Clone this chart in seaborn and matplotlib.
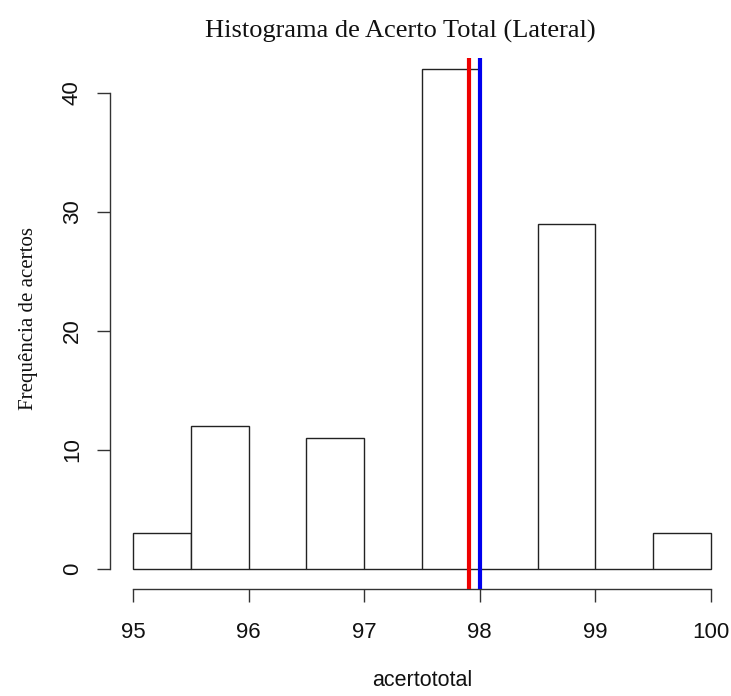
import numpy as np
import pandas as pd
import seaborn as sns
import matplotlib as mpl
mpl.use('Agg')
import matplotlib.pyplot as plt

# bin edges and counts
bin_edges = [95.0, 95.5, 96.0, 96.5, 97.0, 97.5, 98.0, 98.5, 99.0, 99.5, 100.0]
bin_counts = [3, 12, 0, 11, 0, 42, 0, 29, 0, 3]
mean_value = 97.905   # red line
median_value = 98.0   # blue line
x_ticks = [95, 96, 97, 98, 99, 100]
y_ticks = [0, 10, 20, 30, 40]

mids = [(a + b) / 2 for a, b in zip(bin_edges[:-1], bin_edges[1:])]
df = pd.DataFrame({'acertototal': mids, 'n': bin_counts})

sns.set_style('white')
plt.rcParams['font.family'] = ['Liberation Sans', 'DejaVu Sans']
serif = ['Liberation Serif', 'DejaVu Serif']

fig = plt.figure(figsize=(7.31, 6.96), dpi=100)
ax = fig.add_axes([110 / 731, 107 / 696, 624 / 731, 540 / 696])

sns.histplot(data=df, x='acertototal', weights='n', bins=bin_edges,
             stat='count', color='white', edgecolor='#222222',
             linewidth=1.0, alpha=1, ax=ax)

ax.set_xlim(94.8, 100.2)
ax.set_ylim(-1.68, 43.68)

# mean (red) and median (blue)
ax.vlines([mean_value, median_value], -1.68, 42.95,
          colors=['#ee0000', '#0000ee'], lw=3.0, zorder=5)

# R-style axes
for s in ['top', 'right']:
    ax.spines[s].set_visible(False)
ax.spines['bottom'].set_bounds(95, 100)
ax.spines['left'].set_bounds(0, 40)
for s in ['bottom', 'left']:
    ax.spines[s].set_color('#333333')
    ax.spines[s].set_linewidth(1.0)

ax.set_xticks(x_ticks)
ax.set_xticklabels([str(t) for t in x_ticks])
ax.set_yticks(y_ticks)
ax.set_yticklabels([str(t) for t in y_ticks], rotation=90, va='center')
ax.tick_params(axis='both', direction='out', length=9.5, width=1.0,
               color='#333333', labelsize=16, labelcolor='#111111',
               bottom=True, left=True)
ax.tick_params(axis='x', pad=14)
ax.tick_params(axis='y', pad=10)

ax.set_xlabel('acertototal', fontsize=15.5, labelpad=20, color='#111111')
ax.set_ylabel('Frequência de acertos', fontsize=15, labelpad=17,
              family=serif, color='#111111')
ax.set_title('Histograma de Acerto Total (Lateral)', fontsize=19,
             family=serif, pad=8, color='#111111', x=0.465)

plt.savefig('out.png', dpi=100)
plt.close()
